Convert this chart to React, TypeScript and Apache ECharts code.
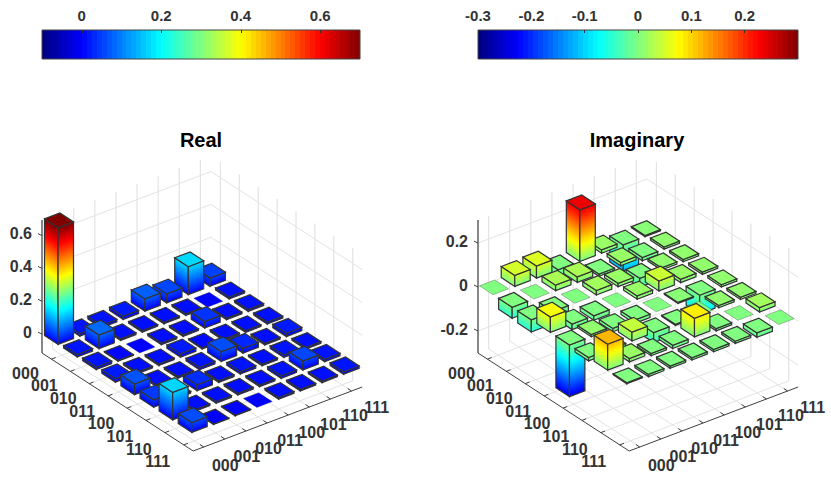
import { useEffect, useRef } from 'react';
import * as echarts from 'echarts';

const basisLabels = ['000', '001', '010', '011', '100', '101', '110', '111'];

// rows are the y axis index, columns the x axis index
const realRows = [
  [0.71, 0.015, 0.015, 0.02, 0.075, 0.055, 0.17, 0.05],
  [0.015, 0.083, 0.01, 0.01, 0.01, 0.01, 0, 0.012],
  [0.015, 0.005, 0, 0.01, 0.01, 0.04, 0.01, 0.012],
  [0.02, 0.01, 0.01, 0.02, 0.006, 0.01, 0.01, 0.012],
  [0.065, 0.01, 0.01, 0.015, 0.06, 0.03, 0.01, 0.02],
  [0.045, 0.01, 0.035, 0.01, 0.015, 0.01, 0.015, 0.01],
  [0.167, 0.01, 0.01, 0.01, 0.01, 0.015, 0.055, 0.015],
  [0.06, -0.002, 0.003, 0, 0.01, 0.01, 0.01, 0.015],
];

const imagRows = [
  [0, 0.05, 0.055, -0.07, 0.235, 0.015, -0.118, 0.005],
  [-0.05, 0, 0.025, 0.025, -0.01, 0.015, -0.015, 0.01],
  [-0.055, -0.025, 0, 0.02, 0.015, -0.04, 0.01, 0.01],
  [0.07, -0.025, -0.02, 0, 0.015, 0.045, 0.015, 0.01],
  [-0.235, 0.01, -0.015, -0.015, 0, 0.005, -0.085, 0.01],
  [-0.015, -0.015, 0.04, -0.045, -0.005, 0, 0.01, 0.01],
  [0.118, 0.015, -0.01, -0.015, 0.085, -0.01, 0, 0.02],
  [-0.005, -0.01, -0.01, -0.01, -0.01, -0.01, -0.02, 0],
];

const realZTicks = [0, 0.2, 0.4, 0.6];
const imagZTicks = [-0.2, 0, 0.2];
const realBarTicks = [0, 0.2, 0.4, 0.6];
const imagBarTicks = [-0.3, -0.2, -0.1, 0, 0.1, 0.2];

const TEXT = '#333333';
const FONT = '"Liberation Sans", Arial, sans-serif';

const clamp = (v: number) => Math.max(0, Math.min(1, v));
const jet = (t: number) => {
  const r = clamp(1.5 - Math.abs(4 * t - 3));
  const g = clamp(1.5 - Math.abs(4 * t - 2));
  const b = clamp(1.5 - Math.abs(4 * t - 1));
  return `rgb(${Math.round(r * 255)},${Math.round(g * 255)},${Math.round(b * 255)})`;
};

// 64 hard steps like the matlab colormap
const steppedStops = () => {
  const stops: { offset: number; color: string }[] = [];
  for (let i = 0; i < 64; i++) {
    const c = jet((i + 0.5) / 64);
    stops.push({ offset: i / 64, color: c }, { offset: (i + 1) / 64, color: c });
  }
  return stops;
};

interface Panel {
  rows: number[][];
  zTicks: number[];
  clim: [number, number];
  zRange: [number, number];
  shift: number; // horizontal offset of the panel
  zPx: number; // px height of zRange
  bar0: [number, number]; // screen position of bar (0,0) at z=0
}

const frameU: [number, number] = [21.12, -8];
const frameV: [number, number] = [18.9, 12.25];
const frameO: [number, number] = [42, 353];
const barU: [number, number] = [21.7, -8.3];
const barV: [number, number] = [19.1, 12.57];
const BAR_W = 0.71;

const framePt = (p: Panel, u: number, v: number, z: number): number[] => {
  const lift = echarts.number.linearMap(z, p.zRange, [0, p.zPx], false);
  return [
    frameO[0] + p.shift + (u + 0.5) * frameU[0] + (v + 0.5) * frameV[0],
    frameO[1] + (u + 0.5) * frameU[1] + (v + 0.5) * frameV[1] - lift,
  ];
};

const barPt = (p: Panel, u: number, v: number, z: number): number[] => {
  const lift =
    echarts.number.linearMap(z, p.zRange, [0, p.zPx], false) -
    echarts.number.linearMap(0, p.zRange, [0, p.zPx], false);
  return [
    p.bar0[0] + u * barU[0] + v * barV[0],
    p.bar0[1] + u * barU[1] + v * barV[1] - lift,
  ];
};

const sideFill = (p: Panel, a: number[], b: number[], low: number, high: number, h: number) => {
  const ex = b[0] - a[0];
  const ey = b[1] - a[1];
  const len = Math.hypot(ex, ey);
  const nx = -ey / len;
  const ny = ex / len;
  const dot = -h * ny;
  const t0 = echarts.number.linearMap(low, p.clim, [0, 1], true);
  const t1 = echarts.number.linearMap(high, p.clim, [0, 1], true);
  const n = Math.max(2, Math.ceil(Math.abs(t1 - t0) * 24));
  const colorStops = [];
  for (let i = 0; i <= n; i++) colorStops.push({ offset: i / n, color: jet(t0 + ((t1 - t0) * i) / n) });
  return {
    type: 'linear',
    x: a[0],
    y: a[1],
    x2: a[0] + nx * dot,
    y2: a[1] + ny * dot,
    global: true,
    colorStops,
  };
};

const barSeries = (p: Panel) => {
  const cells: number[][] = [];
  p.rows.forEach((row, v) => row.forEach((val, u) => cells.push([u, v, val])));
  cells.sort((a, b) => a[1] - a[0] - (b[1] - b[0])); // far corner first

  return {
    type: 'custom',
    coordinateSystem: 'none',
    silent: true,
    z: 3,
    data: cells,
    renderItem: (_: unknown, api: any) => {
      const u = api.value(0);
      const v = api.value(1);
      const val = api.value(2);
      const high = Math.max(val, 0);
      const low = Math.min(val, 0);
      const d = BAR_W / 2;
      const pt = (du: number, dv: number, z: number) => barPt(p, u + du * d, v + dv * d, z);
      const topColor = jet(echarts.number.linearMap(high, p.clim, [0, 1], true));

      if (val === 0) {
        return {
          type: 'polygon',
          shape: { points: [pt(-1, -1, 0), pt(1, -1, 0), pt(1, 1, 0), pt(-1, 1, 0)] },
          style: { fill: topColor, stroke: 'rgba(60,60,60,0.35)', lineWidth: 1 },
        };
      }

      const edge = { stroke: '#333333', lineWidth: 1.2 };
      const h = pt(-1, 1, low)[1] - pt(-1, 1, high)[1];
      return {
        type: 'group',
        children: [
          {
            type: 'polygon',
            shape: { points: [pt(-1, -1, low), pt(-1, 1, low), pt(-1, 1, high), pt(-1, -1, high)] },
            style: { fill: sideFill(p, pt(-1, 1, low), pt(-1, -1, low), low, high, h), ...edge },
          },
          {
            type: 'polygon',
            shape: { points: [pt(-1, 1, low), pt(1, 1, low), pt(1, 1, high), pt(-1, 1, high)] },
            style: { fill: sideFill(p, pt(1, 1, low), pt(-1, 1, low), low, high, h), ...edge },
          },
          {
            type: 'polygon',
            shape: { points: [pt(-1, -1, high), pt(1, -1, high), pt(1, 1, high), pt(-1, 1, high)] },
            style: { fill: topColor, ...edge },
          },
        ],
      };
    },
  };
};

const frameSeries = (p: Panel) => ({
  type: 'custom',
  coordinateSystem: 'none',
  silent: true,
  z: 1,
  data: [[0]],
  renderItem: () => {
    const [zMin, zMax] = p.zRange;
    const children: any[] = [];
    const line = (a: number[], b: number[], stroke: string, lineWidth = 1) =>
      children.push({
        type: 'line',
        shape: { x1: a[0], y1: a[1], x2: b[0], y2: b[1] },
        style: { stroke, lineWidth },
      });
    const text = (s: string, x: number, y: number, align: string) =>
      children.push({
        type: 'text',
        style: {
          text: s,
          x,
          y,
          align,
          verticalAlign: 'middle',
          fontFamily: FONT,
          fontSize: 16,
          fontWeight: 'bold',
          fill: TEXT,
        },
      });

    const grid = '#e3e3e3';
    basisLabels.forEach((_, i) => {
      // walls
      line(framePt(p, i, -0.5, zMin), framePt(p, i, -0.5, zMax), grid, 1.2);
      line(framePt(p, 7.5, i, zMin), framePt(p, 7.5, i, zMax), grid, 1.2);
      // floor
      line(framePt(p, i, -0.5, zMin), framePt(p, i, 7.5, zMin), grid);
      line(framePt(p, -0.5, i, zMin), framePt(p, 7.5, i, zMin), grid);
    });
    p.zTicks.forEach((z) => {
      line(framePt(p, -0.5, -0.5, z), framePt(p, 7.5, -0.5, z), grid);
      line(framePt(p, 7.5, -0.5, z), framePt(p, 7.5, 7.5, z), grid);
    });

    // axis lines
    const axis = '#404040';
    const corner = framePt(p, -0.5, -0.5, zMin);
    const near = framePt(p, -0.5, 7.5, zMin);
    const right = framePt(p, 7.5, 7.5, zMin);
    line(corner, framePt(p, -0.5, -0.5, zMax), '#555555', 1.4);
    line(corner, near, axis);
    line(near, right, axis);

    basisLabels.forEach((label, i) => {
      const yt = framePt(p, -0.5, i, zMin);
      line(yt, framePt(p, -0.3, i, zMin), axis);
      text(label, yt[0] - 26, yt[1] + 14 + 0.4 * i, 'center');
      const xt = framePt(p, i, 7.5, zMin);
      line(xt, framePt(p, i, 7.3, zMin), axis);
      text(label, xt[0] + 21.5 + 0.5 * i, xt[1] + 18 - 0.2 * i, 'center');
    });
    p.zTicks.forEach((z) => {
      const t = framePt(p, -0.5, -0.5, z);
      line(t, [t[0] - 4, t[1] - 2], axis);
      text(String(z), t[0] - 10, t[1] - 2, 'right');
    });
    return { type: 'group', children };
  },
});

const colorbarSeries = (index: number) => ({
  type: 'custom',
  xAxisIndex: index,
  yAxisIndex: index,
  silent: true,
  z: 2,
  data: [[0]],
  renderItem: (params: any) => {
    const cs = params.coordSys;
    return {
      type: 'rect',
      shape: { x: cs.x, y: cs.y, width: cs.width, height: cs.height },
      style: {
        fill: { type: 'linear', x: 0, y: 0, x2: 1, y2: 0, colorStops: steppedStops() },
        stroke: '#444444',
        lineWidth: 1,
      },
    };
  },
});

const colorbarAxis = (index: number, min: number, max: number, ticks: number[]) => ({
  type: 'value',
  gridIndex: index,
  position: 'top',
  min,
  max,
  z: 5,
  splitLine: { show: false },
  axisLine: { show: false, onZero: false },
  axisTick: { show: true, inside: true, length: 3, customValues: ticks, lineStyle: { color: '#333333', width: 1 } },
  axisLabel: {
    show: true,
    margin: 7,
    customValues: ticks,
    formatter: (v: number) => String(v),
    hideOverlap: false,
    showMinLabel: true,
    color: TEXT,
    fontFamily: FONT,
    fontSize: 15,
    fontWeight: 'bold',
  },
});

const realPanel: Panel = {
  rows: realRows,
  zTicks: realZTicks,
  clim: [-0.1, 0.7],
  zRange: [-0.115, 0.695],
  shift: 0,
  zPx: 133,
  bar0: [59, 337],
};

const imagPanel: Panel = {
  rows: imagRows,
  zTicks: imagZTicks,
  clim: [-0.3, 0.3],
  zRange: [-0.3, 0.305],
  shift: 436,
  zPx: 133,
  bar0: [494, 287.3],
};

const titleStyle = { fontFamily: FONT, fontSize: 20, fontWeight: 'bold', color: '#000000' };

const App = () => {
  const chartRef = useRef<HTMLDivElement | null>(null);

  useEffect(() => {
    if (!chartRef.current) return;
    const myChart = echarts.init(chartRef.current, undefined, { renderer: 'svg' });

    myChart.setOption({
      animation: false,
      backgroundColor: '#ffffff',
      title: [
        { text: 'Real', left: 196, top: 125, textAlign: 'center', textStyle: titleStyle },
        { text: 'Imaginary', left: 632, top: 125, textAlign: 'center', textStyle: titleStyle },
      ],
      grid: [
        { left: 42, top: 30, width: 318, height: 29 },
        { left: 478, top: 30, width: 320, height: 29 },
      ],
      xAxis: [colorbarAxis(0, -0.1, 0.7, realBarTicks), colorbarAxis(1, -0.3, 0.3, imagBarTicks)],
      yAxis: [
        { type: 'value', gridIndex: 0, show: false, min: 0, max: 1 },
        { type: 'value', gridIndex: 1, show: false, min: 0, max: 1 },
      ],
      series: [
        colorbarSeries(0),
        colorbarSeries(1),
        frameSeries(realPanel),
        barSeries(realPanel),
        frameSeries(imagPanel),
        barSeries(imagPanel),
      ],
    });

    return () => {
      myChart.dispose();
    };
  }, []);

  return <div ref={chartRef} style={{ position: 'fixed', left: 0, top: 0, width: '831px', height: '481px' }} />;
};

export default App;
